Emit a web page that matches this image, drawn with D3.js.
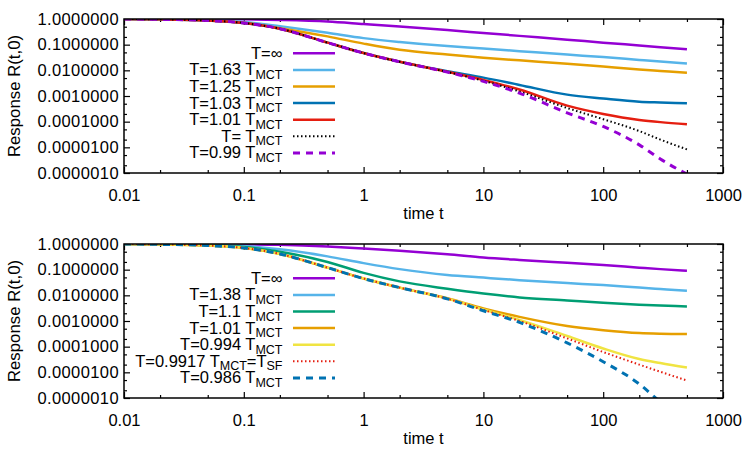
<!DOCTYPE html>
<html>
<head>
<meta charset="utf-8">
<script src="https://d3js.org/d3.v7.min.js"></script>
<style>
  body { margin: 0; background: #fff; }
  svg text { font-family: "Liberation Sans", Arial, Helvetica, sans-serif; }
  .axis text { font-size: 16.5px; fill: #000; }
  .axis--y text { letter-spacing: 0.4px; }
  .axis line { stroke: #000; stroke-width: 1.2; }
  .axis path { display: none; }
</style>
</head>
<body>
<svg id="chart" width="750" height="450"></svg>
<script>
// time grid shared by all curves
var times = [0.01, 0.02, 0.05, 0.1, 0.2, 0.5, 1, 2, 5, 10, 20, 50, 100, 200, 300, 500];

// upper panel
var topInf  = [1.0, 1.0, 0.99, 0.97, 0.92, 0.80, 0.64, 0.51, 0.37, 0.285, 0.22, 0.157, 0.12, 0.093, 0.080, 0.066];
var top163  = [1.0, 0.99, 0.90, 0.76, 0.52, 0.29, 0.18, 0.127, 0.088, 0.071, 0.056, 0.041, 0.033, 0.0255, 0.022, 0.0185];
var top125  = [1.0, 0.98, 0.88, 0.72, 0.44, 0.21, 0.11, 0.063, 0.041, 0.031, 0.0245, 0.0182, 0.014, 0.0108, 0.0095, 0.0081];
var top103  = [1.0, 0.97, 0.87, 0.70, 0.42, 0.12, 0.047, 0.0215, 0.0092, 0.0052, 0.0027, 0.00113, 0.0008, 0.0006, 0.00056, 0.00052];
var top101  = [1.0, 0.97, 0.87, 0.70, 0.42, 0.12, 0.047, 0.0215, 0.0088, 0.0042, 0.0018, 0.00042, 0.0002, 0.000117, 0.000096, 0.00008];
var top100  = [1.0, 0.97, 0.87, 0.70, 0.42, 0.12, 0.047, 0.0215, 0.0086, 0.0039, 0.0015, 0.00034, 0.000125, 0.000043, 0.00002, 0.0000083];
var top099  = [1.0, 0.97, 0.87, 0.70, 0.42, 0.12, 0.047, 0.0215, 0.0085, 0.0037, 0.0013, 0.00022, 0.000065, 0.0000125, 0.0000035, 0.0000009];

// lower panel
var botInf   = [1.0, 1.0, 0.99, 0.97, 0.93, 0.80, 0.67, 0.55, 0.40, 0.30, 0.24, 0.185, 0.152, 0.12, 0.105, 0.091];
var bot138   = [1.0, 0.99, 0.94, 0.84, 0.62, 0.33, 0.18, 0.105, 0.062, 0.049, 0.039, 0.03, 0.025, 0.02, 0.0177, 0.0152];
var bot110   = [1.0, 0.98, 0.90, 0.76, 0.50, 0.20, 0.075, 0.035, 0.018, 0.0117, 0.0083, 0.0063, 0.0051, 0.0043, 0.004, 0.0037];
var bot101   = [1.0, 0.97, 0.87, 0.70, 0.41, 0.12, 0.045, 0.02, 0.0077, 0.0031, 0.00145, 0.00064, 0.00044, 0.00034, 0.00032, 0.00031];
var bot0994  = [1.0, 0.97, 0.87, 0.70, 0.41, 0.12, 0.045, 0.02, 0.0075, 0.0028, 0.0011, 0.00026, 0.000085, 0.000033, 0.000023, 0.0000153];
var bot09917 = [1.0, 0.97, 0.87, 0.70, 0.41, 0.12, 0.045, 0.02, 0.0074, 0.0027, 0.001, 0.00021, 0.000062, 0.00002, 0.0000105, 0.0000048];
var bot0986  = [1.0, 0.97, 0.87, 0.70, 0.41, 0.12, 0.045, 0.02, 0.0073, 0.0025, 0.00088, 0.00014, 0.000026, 0.0000035, 0.0000007, 0.0000001];

// legend labels: [text, isSubscript]
var labelsTop = [
  [["T=\u221E", 0]],
  [["T=1.63 T", 0], ["MCT", 1]],
  [["T=1.25 T", 0], ["MCT", 1]],
  [["T=1.03 T", 0], ["MCT", 1]],
  [["T=1.01 T", 0], ["MCT", 1]],
  [["T= T", 0], ["MCT", 1]],
  [["T=0.99 T", 0], ["MCT", 1]]
];
var labelsBot = [
  [["T=\u221E", 0]],
  [["T=1.38 T", 0], ["MCT", 1]],
  [["T=1.1 T", 0], ["MCT", 1]],
  [["T=1.01 T", 0], ["MCT", 1]],
  [["T=0.994 T", 0], ["MCT", 1]],
  [["T=0.9917 T", 0], ["MCT", 1], ["=T", 0], ["SF", 1]],
  [["T=0.986 T", 0], ["MCT", 1]]
];

var xTicks = [0.01, 0.1, 1, 10, 100, 1000];
var xTickLabels = ["0.01", "0.1", "1", "10", "100", "1000"];
var yTicks = [1e-6, 1e-5, 1e-4, 1e-3, 1e-2, 1e-1, 1];

// line styles (gnuplot default palette)
var stylesTop = [
  {color: "#9400D3", dash: null, w: 2.5},
  {color: "#56B4E9", dash: null, w: 2.5},
  {color: "#E69F00", dash: null, w: 2.5},
  {color: "#0072B2", dash: null, w: 2.5},
  {color: "#E51E10", dash: null, w: 2.5},
  {color: "#000000", dash: "1.5,2.5", w: 2},
  {color: "#9400D3", dash: "7,6", w: 3}
];
var stylesBot = [
  {color: "#9400D3", dash: null, w: 2.5},
  {color: "#56B4E9", dash: null, w: 2.5},
  {color: "#009E73", dash: null, w: 2.5},
  {color: "#E69F00", dash: null, w: 2.5},
  {color: "#F0E442", dash: null, w: 2.5},
  {color: "#E51E10", dash: "1.5,2.5", w: 2},
  {color: "#0072B2", dash: "7,6", w: 3}
];

var svg = d3.select("#chart");
var margin = {left: 124, top: 19},
    width = 599, height = 154;

function minorTicks(lo, hi) {
  var out = [];
  for (var e = lo; e < hi; e++) {
    [2, 5].forEach(function(m) { out.push(m * Math.pow(10, e)); });
  }
  return out;
}

function drawPanel(params) {
  var g = svg.append("g")
    .attr("transform", "translate(" + margin.left + "," + (margin.top + params.offset) + ")");

  var x = d3.scaleLog().domain([0.01, 1000]).range([0, width]);
  var y = d3.scaleLog().domain([1e-6, 1]).range([height, 0]);

  var clipId = "clip" + params.offset;
  g.append("defs").append("clipPath").attr("id", clipId)
    .append("rect").attr("width", width).attr("height", height);

  // axes, ticks inward
  g.append("g").attr("class", "axis axis--x")
    .attr("transform", "translate(0," + height + ")")
    .call(d3.axisBottom(x).tickValues(xTicks).tickSize(-6).tickPadding(16)
      .tickFormat(function(d, i) { return xTickLabels[i]; }));
  g.append("g").attr("class", "axis")
    .attr("transform", "translate(0," + height + ")")
    .call(d3.axisBottom(x).tickValues(minorTicks(-2, 3)).tickSize(-3).tickFormat(""));
  g.append("g").attr("class", "axis")
    .call(d3.axisTop(x).tickValues(xTicks).tickSize(-6).tickFormat(""));
  g.append("g").attr("class", "axis")
    .call(d3.axisTop(x).tickValues(minorTicks(-2, 3)).tickSize(-3).tickFormat(""));

  g.append("g").attr("class", "axis axis--y")
    .call(d3.axisLeft(y).tickValues(yTicks).tickSize(-6).tickPadding(5)
      .tickFormat(d3.format(".7f")));
  g.append("g").attr("class", "axis")
    .call(d3.axisLeft(y).tickValues(minorTicks(-6, 0)).tickSize(-3).tickFormat(""));
  g.append("g").attr("class", "axis")
    .attr("transform", "translate(" + width + ",0)")
    .call(d3.axisRight(y).tickValues(yTicks).tickSize(-6).tickFormat(""));
  g.append("g").attr("class", "axis")
    .attr("transform", "translate(" + width + ",0)")
    .call(d3.axisRight(y).tickValues(minorTicks(-6, 0)).tickSize(-3).tickFormat(""));

  // curves
  var line = d3.line()
    .curve(d3.curveMonotoneX)
    .x(function(d) { return x(d[0]); })
    .y(function(d) { return y(d[1]); });

  var curves = g.append("g").attr("clip-path", "url(#" + clipId + ")");
  params.series.forEach(function(vals, i) {
    var st = params.styles[i];
    curves.append("path")
      .datum(times.map(function(t, k) { return [t, vals[k]]; }))
      .attr("d", line)
      .attr("fill", "none")
      .attr("stroke", st.color)
      .attr("stroke-width", st.w)
      .attr("stroke-dasharray", st.dash);
  });

  // legend
  var leg = g.append("g");
  params.labels.forEach(function(parts, i) {
    var ly = 34.3 + i * 16.6;
    var st = params.styles[i];
    var txt = leg.append("text")
      .attr("x", 158.5).attr("y", ly + 5.5)
      .attr("text-anchor", "end")
      .attr("font-size", 16.5);
    var shifted = 0;
    parts.forEach(function(p) {
      var dy = p[1] ? 3.5 - shifted : -shifted;
      shifted = p[1] ? 3.5 : 0;
      txt.append("tspan")
        .attr("dy", dy)
        .attr("font-size", p[1] ? 12.5 : 16.5)
        .text(p[0]);
    });
    leg.append("line")
      .attr("x1", 169).attr("x2", 211)
      .attr("y1", ly).attr("y2", ly)
      .attr("stroke", st.color)
      .attr("stroke-width", st.w)
      .attr("stroke-dasharray", st.dash);
  });

  // frame
  g.append("rect")
    .attr("width", width).attr("height", height)
    .attr("fill", "none").attr("stroke", "#000").attr("stroke-width", 1.5);

  // axis titles
  g.append("text")
    .attr("x", width / 2).attr("y", height + 46)
    .attr("text-anchor", "middle").attr("font-size", 16.5)
    .text("time t");
  g.append("text")
    .attr("transform", "translate(" + (20 - margin.left) + "," + (height / 2) + ") rotate(-90)")
    .attr("text-anchor", "middle").attr("font-size", 16.8)
    .text("Response R(t,0)");
}

drawPanel({offset: 0, series: [topInf, top163, top125, top103, top101, top100, top099],
           styles: stylesTop, labels: labelsTop});
drawPanel({offset: 225, series: [botInf, bot138, bot110, bot101, bot0994, bot09917, bot0986],
           styles: stylesBot, labels: labelsBot});
</script>
</body>
</html>
